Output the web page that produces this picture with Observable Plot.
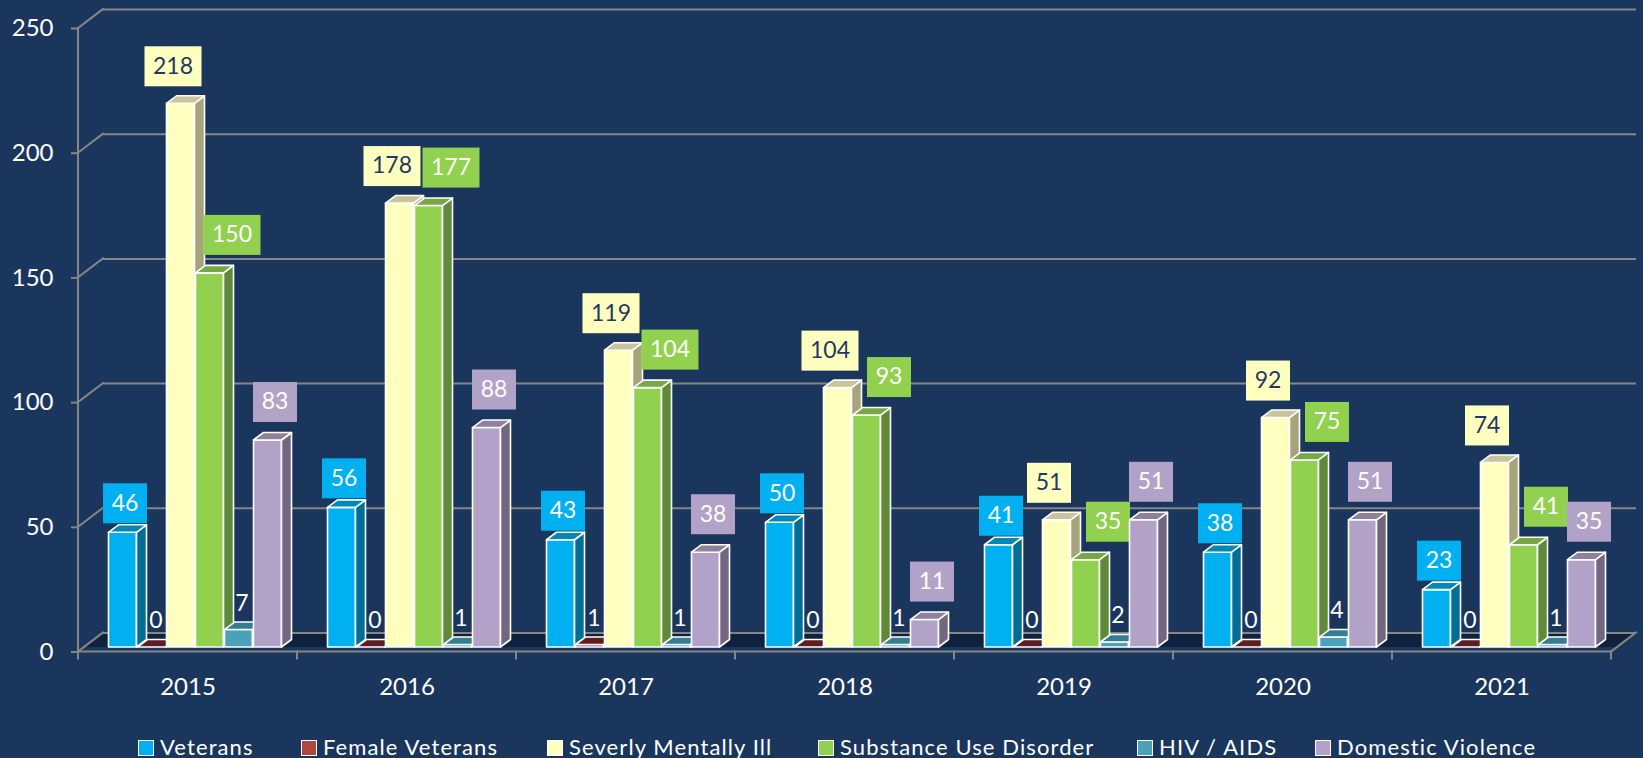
<!DOCTYPE html>
<html>
<head>
<meta charset="utf-8">
<script src="https://cdn.jsdelivr.net/npm/d3@7"></script>
<script src="https://cdn.jsdelivr.net/npm/@observablehq/plot@0.6"></script>
<style>
  html, body { margin: 0; padding: 0; background: #1a365d; }
  body { width: 1643px; height: 758px; overflow: hidden; font-family: Lato, "Open Sans", sans-serif; position: relative; }
  #chart svg { display: block; }
  #legend { position: absolute; left: 0; top: 736px; width: 1643px; height: 22px; color: #ffffff;
            font-size: 22px; line-height: 22px; letter-spacing: 1.1px; white-space: nowrap; }
  #legend .item { position: absolute; top: 0; height: 22px; }
  #legend .sw { position: absolute; left: 0; top: 4px; width: 16px; height: 16px; box-sizing: border-box; border: 1.5px solid #ffffff; }
  #legend .lbl { position: absolute; left: 22px; top: 0; }
</style>
</head>
<body>
<div id="chart"></div>
<div id="legend"></div>
<script>
// ---------- data ----------
const years = ["2015", "2016", "2017", "2018", "2019", "2020", "2021"];
const seriesNames = ["Veterans", "Female Veterans", "Severly Mentally Ill", "Substance Use Disorder", "HIV / AIDS", "Domestic Violence"];
const veterans = [46, 56, 43, 50, 41, 38, 23];
const femaleVeterans = [0, 0, 1, 0, 0, 0, 0];
const severlyMentallyIll = [218, 178, 119, 104, 51, 92, 74];
const substanceUseDisorder = [150, 177, 104, 93, 35, 75, 41];
const hivAids = [7, 1, 1, 1, 2, 4, 1];
const domesticViolence = [83, 88, 38, 11, 51, 51, 35];
const yTicks = [0, 50, 100, 150, 200, 250];

// ---------- styles ----------
const seriesStyles = [
  {front: "#00b0f0", side: "#006e96", top: "#0088b8", box: "#00b0f0", text: "#ffffff", ldx: 2,  ldy: -34},
  {front: "#b0463f", side: "#6a2420", top: "#5c1e1e", box: null,      text: "#ffffff", ldx: 4,  ldy: -31},
  {front: "#ffffc0", side: "#a7a47b", top: "#c9c59a", box: "#ffffc0", text: "#1f3864", ldx: -8, ldy: -42},
  {front: "#92d050", side: "#5e8a39", top: "#76a843", box: "#92d050", text: "#ffffff", ldx: 22, ldy: -43},
  {front: "#4aa2b9", side: "#2d6f80", top: "#357d90", box: null,      text: "#ffffff", ldx: 3,  ldy: -31},
  {front: "#b3a2c7", side: "#736680", top: "#8f80a0", box: "#b3a2c7", text: "#ffffff", ldx: 7,  ldy: -43}
];
const legendLeft = [138, 301, 547, 818, 1137, 1315];
const BG = "#1a365d", FLOOR = "#0f223d", GRID = "#868686";
const BAR_DX = 7.5, BAR_DY = -4.5;   // bars sit slightly behind the floor front edge
const DEPTH_X = 10, DEPTH_Y = 7.5;   // bar depth (oblique)
const WALL_X = 25, WALL_Y = 19;      // back wall offset (oblique)
const ns = "http://www.w3.org/2000/svg";

const seriesValues = [veterans, femaleVeterans, severlyMentallyIll, substanceUseDisorder, hivAids, domesticViolence];
const rowsBySeries = seriesValues.map((vals, i) =>
  years.map((year, j) => ({year, series: seriesNames[i], value: vals[j]})));

function el(tag, attrs) {
  const e = document.createElementNS(ns, tag);
  for (const k in attrs) e.setAttribute(k, attrs[k]);
  return e;
}

// walls, floor, axis line and category boundary ticks (first facet only)
function wallRender(index, scales, values, dimensions) {
  const {width, marginLeft, marginRight} = dimensions;
  const y = scales.y;
  let bounds;
  const fx = scales.fx;
  if (fx && fx.bandwidth) {
    const off = fx(years[0]);
    bounds = years.map(d => fx(d) - off + marginLeft);
    bounds.push(bounds[bounds.length - 1] + fx.bandwidth());
  } else {
    const bw = width - marginLeft - marginRight;
    bounds = years.map((d, k) => marginLeft + k * bw);
    bounds.push(marginLeft + years.length * bw);
  }
  const x0 = bounds[0], x1 = bounds[bounds.length - 1], y0 = y(0);
  const f = -BAR_DY / WALL_Y;
  const g = el("g", {});
  g.appendChild(el("polygon", {
    points: `${x0 + WALL_X * f},${y0 + BAR_DY} ${x1 + WALL_X * f},${y0 + BAR_DY} ${x1 + WALL_X},${y0 - WALL_Y} ${x0 + WALL_X},${y0 - WALL_Y}`,
    fill: FLOOR
  }));
  const lines = [];
  lines.push([x0, y(yTicks[yTicks.length - 1]), x0, y0]);
  for (const t of yTicks) lines.push([x0, y(t), x0 + WALL_X, y(t) - WALL_Y]);
  lines.push([x0, y0, x1, y0]);
  lines.push([x1, y0, x1 + WALL_X, y0 - WALL_Y]);
  for (const b of bounds) lines.push([b, y0, b, y0 + 7]);
  for (const [a, b, c, d] of lines) {
    g.appendChild(el("line", {x1: a, y1: b, x2: c, y2: d, stroke: GRID, "stroke-width": 2, "stroke-linecap": "square"}));
  }
  return g;
}

// turn each bar rect into an oblique 3D column
function bar3d(side, top) {
  return (index, scales, values, dimensions, context, next) => {
    const g = next(index, scales, values, dimensions, context);
    for (const r of Array.from(g.querySelectorAll("rect"))) {
      const x = +r.getAttribute("x"), yy = +r.getAttribute("y");
      const w = +r.getAttribute("width"), h = +r.getAttribute("height");
      const s = el("polygon", {
        points: `${x + w},${yy + h} ${x + w},${yy} ${x + w + DEPTH_X},${yy - DEPTH_Y} ${x + w + DEPTH_X},${yy + h - DEPTH_Y}`,
        fill: side
      });
      const t = el("polygon", {
        points: `${x},${yy} ${x + DEPTH_X},${yy - DEPTH_Y} ${x + w + DEPTH_X},${yy - DEPTH_Y} ${x + w},${yy}`,
        fill: top
      });
      r.after(s, t);
    }
    return g;
  };
}

// coloured box behind each data label
function boxRender(fill) {
  return (index, scales, values, dimensions, context, next) => {
    const g = next(index, scales, values, dimensions, context);
    for (const t of Array.from(g.querySelectorAll("text"))) {
      let tx, ty;
      const tr = t.getAttribute("transform");
      const m = tr && /translate\(\s*([-\d.e]+)[\s,]+([-\d.e]+)\s*\)/.exec(tr);
      if (m) { tx = +m[1]; ty = +m[2]; }
      else { tx = +(t.getAttribute("x") || 0); ty = +(t.getAttribute("y") || 0); }
      const n = t.textContent.length;
      const w = n * 13 + 18, h = 40;
      t.parentNode.insertBefore(el("rect", {x: tx - w / 2, y: ty - h / 2, width: w, height: h, fill, stroke: "none"}), t);
    }
    return g;
  };
}

const seriesMarks = seriesNames.flatMap((name, i) => {
  const s = seriesStyles[i];
  return [
    Plot.barY(rowsBySeries[i], {
      fx: "year", x: () => name, y1: 0, y2: "value",
      fill: s.front, stroke: "#ffffff", strokeWidth: 1.6, strokeLinejoin: "round",
      dx: BAR_DX, dy: BAR_DY, render: bar3d(s.side, s.top)
    }),
    Plot.text(rowsBySeries[i], {
      fx: "year", x: () => name, y: "value", text: d => String(d.value),
      fill: s.text, fontSize: 23, dx: BAR_DX + s.ldx, dy: s.ldy,
      ...(s.box ? {render: boxRender(s.box)} : {})
    })
  ];
});

const chart = Plot.plot({
  width: 1643,
  height: 732,
  marginLeft: 78,
  marginRight: 32,
  marginTop: 28,
  marginBottom: 80.5,
  style: {background: BG, color: "#ffffff", fontFamily: "Lato, 'Open Sans', sans-serif", fontSize: "24px"},
  fx: {domain: years, padding: 0, label: null},
  x: {domain: seriesNames, paddingInner: 0.04, paddingOuter: 0.75, axis: null},
  y: {domain: [0, 250], label: null},
  marks: [
    Plot.ruleY(yTicks, {y: d => d, fx: () => years[0], render: wallRender}),
    Plot.ruleY(yTicks, {y: d => d, dx: WALL_X, dy: -WALL_Y, stroke: GRID, strokeWidth: 2}),
    Plot.axisY({ticks: yTicks, tickSize: 7, tickPadding: 18, stroke: GRID, strokeWidth: 2, label: null, fontSize: 24}),
    Plot.axisFx({anchor: "bottom", tickSize: 0, tickPadding: 26, label: null, fontSize: 24}),
    ...seriesMarks
  ]
});
document.getElementById("chart").appendChild(chart);

// legend
const legend = document.getElementById("legend");
seriesNames.forEach((name, i) => {
  const item = document.createElement("div");
  item.className = "item";
  item.style.left = legendLeft[i] + "px";
  const sw = document.createElement("span");
  sw.className = "sw";
  sw.style.background = seriesStyles[i].front;
  const lbl = document.createElement("span");
  lbl.className = "lbl";
  lbl.textContent = name;
  item.appendChild(sw);
  item.appendChild(lbl);
  legend.appendChild(item);
});
</script>
</body>
</html>
